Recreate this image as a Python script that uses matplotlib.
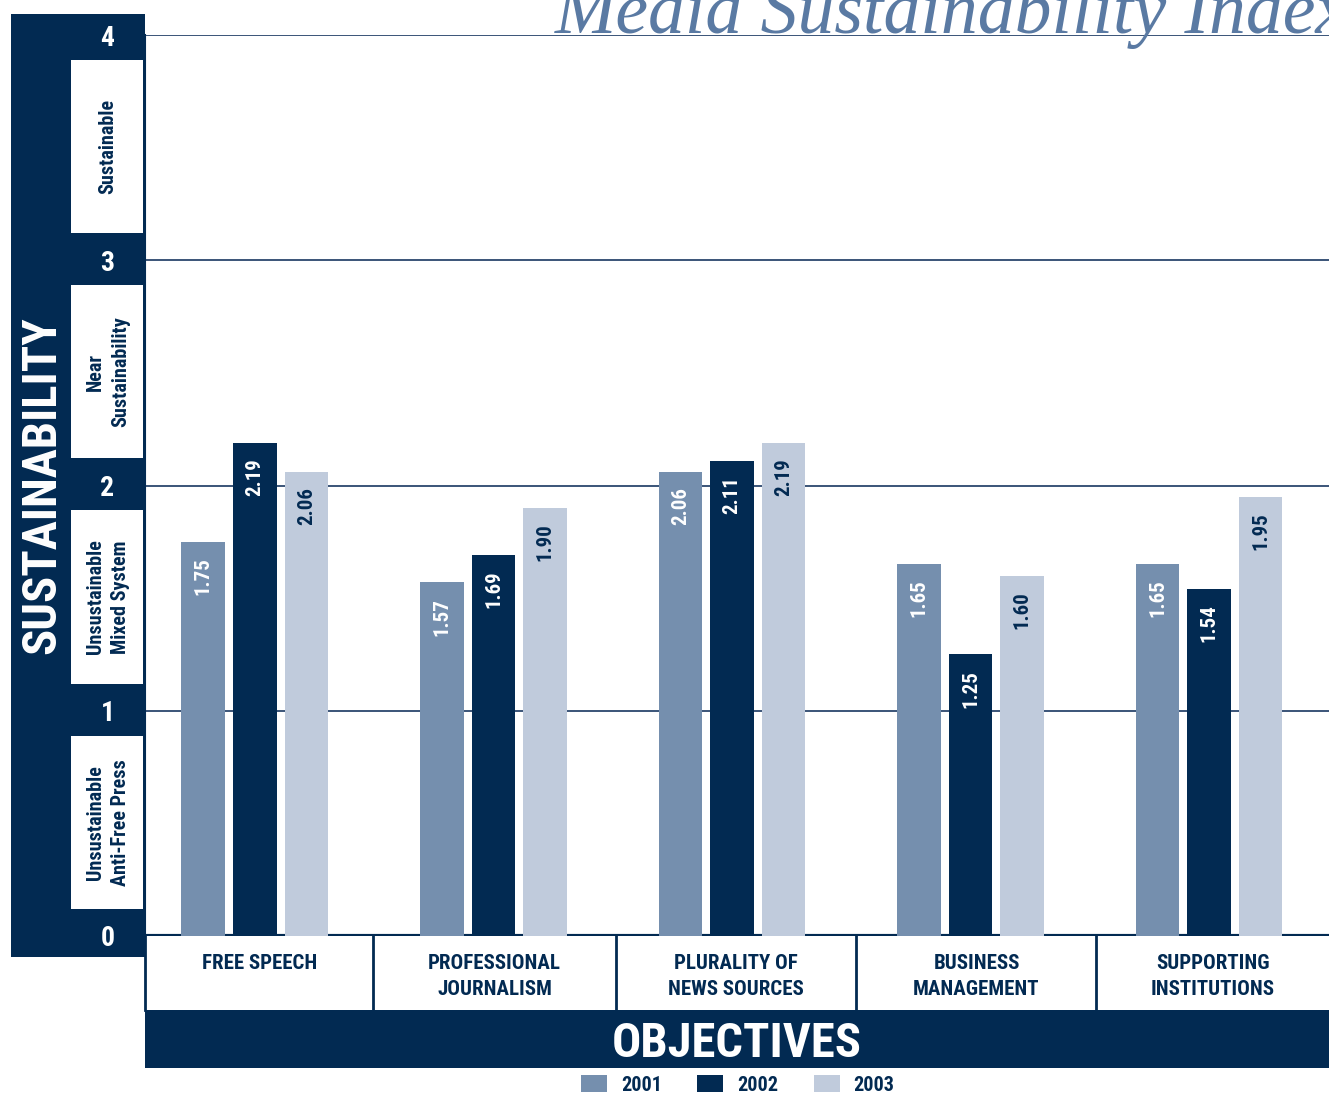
import numpy as np
import matplotlib
matplotlib.use('Agg')
import matplotlib.pyplot as plt
from matplotlib import font_manager
from matplotlib.patches import Rectangle, Patch

# data
objectives = ['FREE SPEECH', 'PROFESSIONAL\nJOURNALISM', 'PLURALITY OF\nNEWS SOURCES',
              'BUSINESS\nMANAGEMENT', 'SUPPORTING\nINSTITUTIONS']
years = ['2001', '2002', '2003']
scores_2001 = [1.75, 1.57, 2.06, 1.65, 1.65]
scores_2002 = [2.19, 1.69, 2.11, 1.25, 1.54]
scores_2003 = [2.06, 1.90, 2.19, 1.60, 1.95]
levels = ['Unsustainable\nAnti-Free Press', 'Unsustainable\nMixed System',
          'Near\nSustainability', 'Sustainable']
yticks = [0, 1, 2, 3, 4]

navy = '#022a52'
c2001 = '#758fae'
c2003 = '#c0cbdc'
gridc = '#3a5478'
titlec = '#5a7aa3'

# pick a narrow sans if one is around, else shrink DejaVu
fonts = font_manager.fontManager.ttflist
names = {f.name for f in fonts}
stretch = 'normal'
base = 'DejaVu Sans'
for n in ['Roboto Condensed', 'Liberation Sans Narrow', 'Open Sans Condensed', 'Noto Sans Condensed']:
    if n in names:
        base = n
        break
else:
    if any(f.name == 'DejaVu Sans' and f.stretch in ('condensed', 600, 'semi-condensed') for f in fonts):
        stretch = 'condensed'
narrow = base != 'DejaVu Sans' or stretch == 'condensed'
k = 1.0 if narrow else 0.8

plt.rcParams['font.family'] = [base, 'DejaVu Sans']
plt.rcParams['font.stretch'] = stretch
plt.rcParams['font.weight'] = 'bold'

W, H = 1329, 1094
fig = plt.figure(figsize=(W / 100, H / 100), dpi=100)

def box(x0, y0, x1, y1):
    # pixel coords (top-left origin) -> figure fraction rect
    return [x0 / W, (H - y1) / H, (x1 - x0) / W, (y1 - y0) / H]

# left navy panel
side = fig.add_axes(box(11, 14, 145, 957))
side.set_facecolor(navy)
side.set_xlim(0, 1)
side.set_ylim(-0.0932, 4.0932)
side.set_xticks([])
side.set_yticks([])
for s in side.spines.values():
    s.set_visible(False)
for i, lab in enumerate(levels):
    side.add_patch(Rectangle((0.448, i + 0.12), 0.54, 0.77, facecolor='white', edgecolor='none'))
    side.text(0.725, i + 0.505, lab, rotation=90, ha='center', va='center',
              color=navy, fontsize=14.5 * k, fontweight='bold', linespacing=1.4)
side.text(0.235, 2.0, 'SUSTAINABILITY', rotation=90, ha='center', va='center',
          color='white', fontsize=35 * (1.0 if narrow else 0.72), fontweight='bold')

# main bars
ax = fig.add_axes(box(145, 35, 1329, 936))
ax.set_facecolor('none')
x = np.arange(len(objectives))
w = 0.184
off = 0.216
series = [(scores_2001, c2001, 'white'), (scores_2002, navy, 'white'), (scores_2003, c2003, navy)]
for i, (vals, col, tcol) in enumerate(series):
    bars = ax.bar(x + (i - 1) * off, vals, width=w, color=col, label=years[i], zorder=3)
    for b, v in zip(bars, vals):
        ax.annotate(f'{v:.2f}', (b.get_x() + b.get_width() / 2, v), xytext=(0, -11),
                    textcoords='offset points', rotation=90, ha='center', va='top',
                    color=tcol, fontsize=15 * k, fontweight='bold', zorder=4)
ax.set_xlim(-0.461, 4.503)
ax.set_ylim(0, 4)
ax.set_yticks(yticks)
ax.set_yticklabels([str(t) for t in yticks], color='white', fontsize=20, fontweight='bold')
ax.tick_params(axis='y', length=0, pad=22)
ax.set_xticks([])
ax.yaxis.grid(True, color=gridc, linewidth=1.4, zorder=1)
for s in ['top', 'right']:
    ax.spines[s].set_visible(False)
ax.spines['left'].set_color(navy)
ax.spines['left'].set_linewidth(1.5)
ax.spines['bottom'].set_color(navy)
ax.spines['bottom'].set_linewidth(3)

# objective label cells
cells = fig.add_axes(box(145, 936, 1329, 1010))
cells.set_xlim(ax.get_xlim())
cells.set_ylim(0, 1)
cells.set_xticks([])
cells.set_yticks([])
for s in cells.spines.values():
    s.set_visible(False)
cells.spines['left'].set_visible(True)
cells.spines['left'].set_color(navy)
cells.spines['left'].set_linewidth(2)
edges = [-0.461, 0.496, 1.514, 2.522, 3.528, 4.503]
for e in edges[1:-1]:
    cells.axvline(e, color=navy, linewidth=2)
for i, lab in enumerate(objectives):
    cells.text((edges[i] + edges[i + 1]) / 2, 0.76, lab, ha='center', va='top',
               color=navy, fontsize=15 * k, fontweight='bold', linespacing=1.5)

# objectives bar
obj = fig.add_axes(box(145, 1010, 1329, 1068))
obj.set_facecolor(navy)
obj.set_xticks([])
obj.set_yticks([])
for s in obj.spines.values():
    s.set_visible(False)
obj.text(0.5, 0.41, 'OBJECTIVES', ha='center', va='center', color='white',
         fontsize=35 * (1.0 if narrow else 0.78), fontweight='bold', transform=obj.transAxes)

# legend
handles = [Patch(facecolor=c, edgecolor='none') for c in (c2001, navy, c2003)]
fig.legend(handles, years, loc='center', bbox_to_anchor=(738 / W, (H - 1085) / H),
           ncol=3, frameon=False, fontsize=14.5 * (1.0 if narrow else 0.87),
           handlelength=1.29, handleheight=0.9,
           handletextpad=0.7, columnspacing=1.74, labelcolor=navy)

# title, cropped at the top like the page
fig.text(555 / W, (H - 33) / H, 'Media Sustainability Index', ha='left', va='baseline',
         color=titlec, fontsize=53, style='italic', fontweight='normal', fontstretch='normal',
         family=['Liberation Serif', 'DejaVu Serif'])

fig.savefig('out.png', dpi=100)
